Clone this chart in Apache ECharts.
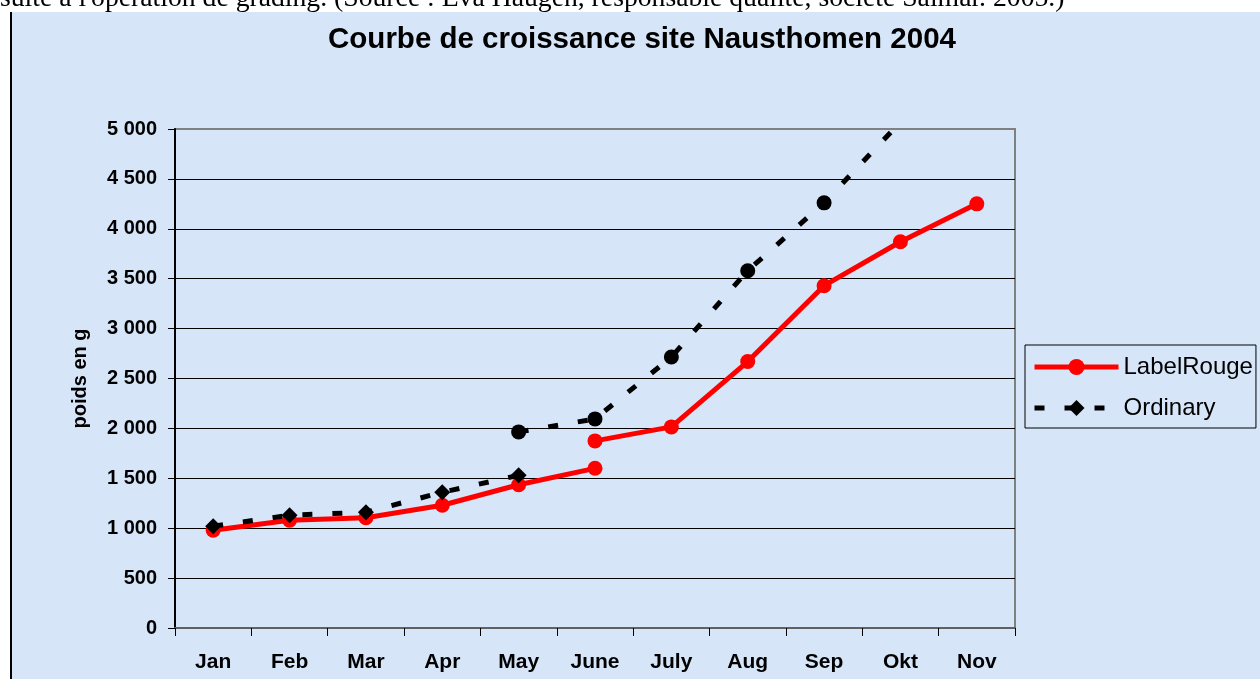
<!DOCTYPE html>
<html>
<head>
<meta charset="utf-8">
<script src="https://cdn.jsdelivr.net/npm/echarts@6/dist/echarts.min.js"></script>
<style>
  html, body { margin: 0; padding: 0; background: #ffffff; }
  #chart { width: 1260px; height: 679px; }
</style>
</head>
<body>
<div id="chart"></div>
<script>
// Months on the category axis
const months = ['Jan', 'Feb', 'Mar', 'Apr', 'May', 'June', 'July', 'Aug', 'Sep', 'Okt', 'Nov'];

// Weight axis (g)
const yMin = 0;
const yMax = 5000;
const yStep = 500;

// LabelRouge: before and after grading (grading in June)
const labelRougeBeforeStart = 'Jan';
const labelRougeBefore = [980, 1080, 1105, 1230, 1435, 1600];
const labelRougeAfterStart = 'June';
const labelRougeAfter = [1875, 2015, 2670, 3430, 3870, 4250];

// Ordinary: before and after grading (grading in May)
const ordinaryBeforeStart = 'Jan';
const ordinaryBefore = [1020, 1130, 1160, 1360, 1530];
const ordinaryAfterStart = 'May';
const ordinaryAfter = [1965, 2095, 2715, 3580, 4260, 5070];

// Caption above the chart and chart texts
const captionText = "suite à l'opération de grading. (Source : Eva Haugen, responsable qualité, société Salmar. 2005.)";
const titleText = 'Courbe de croissance site Nausthomen 2004';
const yAxisName = 'poids en g';

function toPoints(startMonth, values) {
  const start = months.indexOf(startMonth);
  return values.map(function (v, i) {
    const item = { value: [months[start + i], v] };
    // points above the axis range keep their line segment but no marker
    if (v > yMax) item.symbolSize = 0;
    return item;
  });
}

function spaced(v) {
  return String(v).replace(/\B(?=(\d{3})+(?!\d))/g, ' ');
}

const FONT = '"Liberation Sans", Arial, sans-serif';
const RED = '#ff0000';
const BLACK = '#000000';

const chart = echarts.init(document.getElementById('chart'), null, { renderer: 'canvas' });

chart.setOption({
  animation: false,
  backgroundColor: '#ffffff',
  graphic: [
    {
      type: 'rect', z: -10, silent: true,
      shape: { x: 10, y: 12, width: 1250, height: 667 },
      style: { fill: '#d6e6f8' }
    },
    {
      type: 'line', z: -9, silent: true,
      shape: { x1: 11, y1: 12, x2: 11, y2: 679 },
      style: { stroke: '#000000', lineWidth: 2 }
    },
    {
      type: 'text', z: 5, silent: true,
      x: 0, y: -1,
      style: {
        text: captionText,
        font: '27.7px "Liberation Serif", "Times New Roman", serif',
        fill: '#000000',
        textAlign: 'left',
        textVerticalAlign: 'middle'
      }
    },
    {
      type: 'text', z: 5, silent: true,
      x: 642, y: 40,
      style: {
        text: titleText,
        font: 'bold 29.5px ' + FONT,
        fill: '#000000',
        textAlign: 'center',
        textVerticalAlign: 'middle'
      }
    }
  ],
  legend: {
    orient: 'vertical',
    left: 1025,
    top: 345,
    data: ['LabelRouge', 'Ordinary'],
    itemWidth: 84,
    itemHeight: 20,
    itemGap: 17,
    padding: [10, 3, 8, 7],
    borderColor: '#000000',
    borderWidth: 1,
    backgroundColor: 'transparent',
    lineStyle: { width: 5 },
    textStyle: { fontFamily: FONT, fontSize: 24, color: '#000000', padding: [0, 0, 0, 0] }
  },
  grid: {
    left: 175,
    top: 129,
    width: 840,
    height: 499,
    show: true,
    borderColor: '#808080',
    borderWidth: 2,
    backgroundColor: 'transparent',
    containLabel: false
  },
  xAxis: {
    type: 'category',
    data: months,
    boundaryGap: true,
    axisLine: { show: true, lineStyle: { color: '#606060', width: 2 } },
    axisTick: { show: true, inside: false, length: 8, interval: 0, lineStyle: { color: '#000000', width: 1 } },
    axisLabel: {
      interval: 0, margin: 24,
      fontFamily: FONT, fontSize: 21, fontWeight: 'bold', color: '#000000'
    },
    splitLine: { show: false }
  },
  yAxis: {
    type: 'value',
    min: yMin,
    max: yMax,
    interval: yStep,
    name: yAxisName,
    nameLocation: 'middle',
    nameGap: 85,
    nameRotate: 90,
    nameTextStyle: { fontFamily: FONT, fontSize: 20, fontWeight: 'bold', color: '#000000' },
    axisLine: { show: true, lineStyle: { color: '#000000', width: 2 } },
    axisTick: { show: true, inside: false, length: 7, lineStyle: { color: '#000000', width: 1 } },
    axisLabel: {
      margin: 18,
      formatter: spaced,
      fontFamily: FONT, fontSize: 20, fontWeight: 'bold', color: '#000000'
    },
    splitLine: { show: true, showMinLine: false, showMaxLine: false, lineStyle: { color: '#000000', width: 1 } }
  },
  series: [
    {
      name: 'LabelRouge', type: 'line',
      data: toPoints(labelRougeBeforeStart, labelRougeBefore),
      symbol: 'circle', symbolSize: 15, clip: false,
      lineStyle: { color: RED, width: 5 },
      itemStyle: { color: RED }
    },
    {
      name: 'LabelRouge', type: 'line',
      data: toPoints(labelRougeAfterStart, labelRougeAfter),
      symbol: 'circle', symbolSize: 15, clip: false,
      lineStyle: { color: RED, width: 5 },
      itemStyle: { color: RED }
    },
    {
      name: 'Ordinary', type: 'line',
      data: toPoints(ordinaryBeforeStart, ordinaryBefore),
      symbol: 'diamond', symbolSize: 16, clip: false,
      lineStyle: { color: BLACK, width: 5, type: [10, 20] },
      itemStyle: { color: BLACK }
    },
    {
      name: 'Ordinary', type: 'line',
      data: toPoints(ordinaryAfterStart, ordinaryAfter),
      symbol: 'circle', symbolSize: 15, clip: false,
      lineStyle: { color: BLACK, width: 5, type: [10, 20] },
      itemStyle: { color: BLACK }
    }
  ]
});
</script>
</body>
</html>
